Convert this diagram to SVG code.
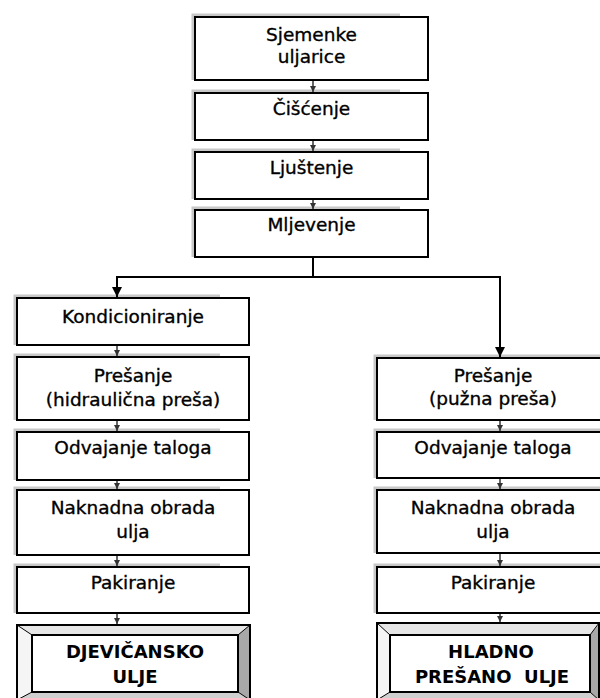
<svg xmlns="http://www.w3.org/2000/svg" width="600" height="698" viewBox="0 0 600 698">
<style>
.box{fill:#fff;stroke:#000;stroke-width:2}
.sh{fill:none;stroke:#c8c8c8;stroke-width:3}
.t{font-family:"DejaVu Sans","Liberation Sans",sans-serif;font-size:18.5px;fill:#000;stroke:#000;stroke-width:0.35;text-anchor:middle}
.b{font-family:"DejaVu Sans","Liberation Sans",sans-serif;font-size:18px;font-weight:bold;fill:#000;text-anchor:middle;white-space:pre}
.c{fill:none;stroke:#000;stroke-width:2}
.s{fill:none;stroke:#333;stroke-width:1.5}
</style>
<defs>
<marker id="ah" markerUnits="userSpaceOnUse" markerWidth="10" markerHeight="10" viewBox="0 0 10 10" refX="10" refY="5" orient="auto">
<path d="M0,0 L10,5 L0,10 z" fill="#000"/>
</marker>
<marker id="as" markerUnits="userSpaceOnUse" markerWidth="6" markerHeight="6" viewBox="0 0 10 10" refX="10" refY="5" orient="auto">
<path d="M0,0 L10,5 L0,10 z" fill="#333"/>
</marker>
</defs>
<rect width="600" height="698" fill="#fff"/>

<g id="n1"><path class="sh" d="M193,80 V15 H400"/><rect class="box" x="195" y="17" width="233" height="63"/><text class="t" x="311.5" y="41">Sjemenke</text><text class="t" x="311.5" y="63">uljarice</text></g>
<g id="n2"><path class="sh" d="M193,140 V91 H400"/><rect class="box" x="195" y="93" width="233" height="47"/><text class="t" x="311.5" y="115">Čišćenje</text></g>
<g id="n3"><path class="sh" d="M193,199 V150 H400"/><rect class="box" x="195" y="152" width="233" height="47"/><text class="t" x="311.5" y="174">Ljuštenje</text></g>
<g id="n4"><path class="sh" d="M193,257 V208 H400"/><rect class="box" x="195" y="210" width="233" height="47"/><text class="t" x="311.5" y="231">Mljevenje</text></g>

<g id="l1"><path class="sh" d="M15,345 V296 H220"/><rect class="box" x="17" y="298" width="232" height="47"/><text class="t" x="133" y="323">Kondicioniranje</text></g>
<g id="l2"><path class="sh" d="M15,420 V355 H220"/><rect class="box" x="17" y="357" width="232" height="63"/><text class="t" x="133" y="382">Prešanje</text><text class="t" x="133" y="406">(hidraulična preša)</text></g>
<g id="l3"><path class="sh" d="M15,480 V430 H220"/><rect class="box" x="17" y="432" width="232" height="48"/><text class="t" x="133" y="454">Odvajanje taloga</text></g>
<g id="l4"><path class="sh" d="M15,555 V488 H220"/><rect class="box" x="17" y="490" width="232" height="65"/><text class="t" x="133" y="514">Naknadna obrada</text><text class="t" x="133" y="538">ulja</text></g>
<g id="l5"><path class="sh" d="M15,613 V565 H220"/><rect class="box" x="17" y="567" width="232" height="46"/><text class="t" x="133" y="589">Pakiranje</text></g>
<g id="l6">
<polygon points="17,625 250,625 238,635 32,635" fill="#e6e6e6"/>
<polygon points="17,625 32,635 32,692 17,700" fill="#f5f5f5"/>
<polygon points="250,625 250,700 238,692 238,635" fill="#a8a8a8"/>
<polygon points="17,700 32,692 238,692 250,700" fill="#cfcfcf"/>
<rect x="17" y="625" width="233" height="76" fill="none" stroke="#000" stroke-width="2"/>
<rect class="box" x="32" y="635" width="206" height="57"/>
<path d="M17,625 L32,635 M250,625 L238,635 M17,700 L32,692 M250,700 L238,692" stroke="#000" stroke-width="1"/>
<text class="b" x="135" y="658">DJEVIČANSKO</text><text class="b" x="135" y="683">ULJE</text></g>

<g id="r1"><path class="sh" d="M375,420 V356 H600"/><rect class="box" x="377" y="358" width="233" height="62"/><text class="t" x="493" y="382">Prešanje</text><text class="t" x="493" y="405">(pužna preša)</text></g>
<g id="r2"><path class="sh" d="M375,478 V430 H600"/><rect class="box" x="377" y="432" width="233" height="46"/><text class="t" x="493" y="454">Odvajanje taloga</text></g>
<g id="r3"><path class="sh" d="M375,553 V488 H600"/><rect class="box" x="377" y="490" width="233" height="63"/><text class="t" x="493" y="514">Naknadna obrada</text><text class="t" x="493" y="538">ulja</text></g>
<g id="r4"><path class="sh" d="M375,613 V565 H600"/><rect class="box" x="377" y="567" width="233" height="46"/><text class="t" x="493" y="589">Pakiranje</text></g>
<g id="r5">
<polygon points="377,623 600,623 590,635 390,635" fill="#e6e6e6"/>
<polygon points="377,623 390,635 390,692 377,700" fill="#f5f5f5"/>
<polygon points="600,623 600,700 590,692 590,635" fill="#a8a8a8"/>
<polygon points="377,700 390,692 590,692 600,700" fill="#cfcfcf"/>
<rect x="377" y="623" width="222" height="78" fill="none" stroke="#000" stroke-width="2"/>
<rect class="box" x="390" y="635" width="200" height="57"/>
<path d="M377,623 L390,635 M599,623 L590,635 M377,700 L390,692 M599,700 L590,692" stroke="#000" stroke-width="1"/>
<text class="b" x="491" y="658">HLADNO</text><text class="b" x="492" y="683">PREŠANO  ULJE</text></g>

<g id="connectors">
<path class="s" d="M313,81 V92" marker-end="url(#as)"/>
<path class="s" d="M313,141 V151" marker-end="url(#as)"/>
<path class="s" d="M313,200 V209" marker-end="url(#as)"/>
<path class="c" d="M313,258 V277 H117 V297" marker-end="url(#ah)"/>
<path class="c" d="M313,277 H500 V357" marker-end="url(#ah)"/>
<path class="s" d="M117,346 V356" marker-end="url(#as)"/>
<path class="s" d="M117,421 V431" marker-end="url(#as)"/>
<path class="s" d="M117,481 V489" marker-end="url(#as)"/>
<path class="s" d="M117,556 V566" marker-end="url(#as)"/>
<path class="s" d="M117,614 V624" marker-end="url(#as)"/>
<path class="s" d="M500,421 V431" marker-end="url(#as)"/>
<path class="s" d="M500,479 V489" marker-end="url(#as)"/>
<path class="s" d="M500,554 V566" marker-end="url(#as)"/>
<path class="s" d="M500,614 V622" marker-end="url(#as)"/>
</g>
</svg>
